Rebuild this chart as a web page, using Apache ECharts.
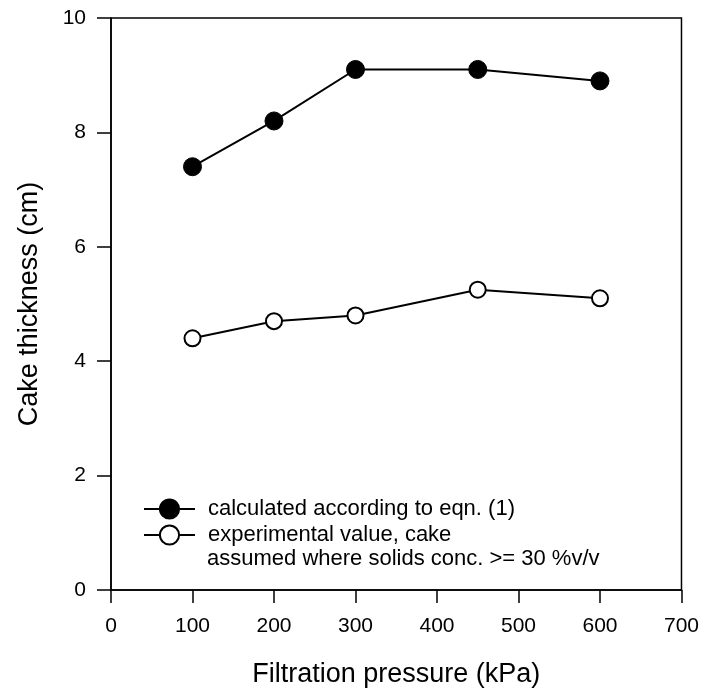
<!DOCTYPE html>
<html><head><meta charset="utf-8">
<script src="https://cdn.jsdelivr.net/npm/echarts@6/dist/echarts.min.js"></script>
<style>html,body{margin:0;padding:0;background:#fff}#c{width:702px;height:693px}</style>
</head><body><div id="c"></div>
<script>
const pressure = [100, 200, 300, 450, 600];
const calculated = [7.4, 8.2, 9.1, 9.1, 8.9];
const experimental = [4.4, 4.7, 4.8, 5.25, 5.1];
const xTicks = [0, 100, 200, 300, 400, 500, 600, 700];
const yTicks = [0, 2, 4, 6, 8, 10];
const seriesNames = ['calculated according to eqn. (1)', 'experimental value, cake'];
const extraLegendLine = 'assumed where solids conc. >= 30 %v/v';

const FONT = '"Liberation Sans", Arial, sans-serif';
const chart = echarts.init(document.getElementById('c'), null, {renderer: 'canvas'});
const pair = (xs, ys) => xs.map((x, i) => [x, ys[i]]);
chart.setOption({
  animation: false,
  backgroundColor: '#fff',
  grid: {left: 111, top: 18, right: 19, bottom: 102, show: true, borderColor: '#000', borderWidth: 1.5},
  xAxis: {
    type: 'value', min: xTicks[0], max: xTicks[xTicks.length - 1], interval: 100,
    name: 'Filtration pressure (kPa)', nameLocation: 'middle', nameGap: 71,
    nameTextStyle: {fontFamily: FONT, fontSize: 27, color: '#000'},
    axisLine: {show: true, onZero: false, lineStyle: {color: '#000', width: 1.5}},
    axisTick: {show: true, inside: false, length: 13, lineStyle: {color: '#000', width: 1.5}},
    axisLabel: {fontFamily: FONT, fontSize: 21, color: '#000', margin: 26},
    splitLine: {show: false}
  },
  yAxis: {
    type: 'value', min: yTicks[0], max: yTicks[yTicks.length - 1], interval: 2,
    name: 'Cake thickness (cm)', nameLocation: 'middle', nameGap: 68,
    nameTextStyle: {fontFamily: FONT, fontSize: 27, color: '#000'},
    axisLine: {show: true, onZero: false, lineStyle: {color: '#000', width: 1.5}},
    axisTick: {show: true, inside: false, length: 14, lineStyle: {color: '#000', width: 1.5}},
    axisLabel: {fontFamily: FONT, fontSize: 21, color: '#000', margin: 25},
    splitLine: {show: false}
  },
  legend: {
    orient: 'vertical', left: 143, top: 498, padding: 0, itemWidth: 51, itemHeight: 24, itemGap: 4,
    lineStyle: {width: 2},
    textStyle: {fontFamily: FONT, fontSize: 22, color: '#000', padding: [0, 0, 0, 8]},
    data: seriesNames
  },
  graphic: [{
    type: 'text', left: 207, top: 548,
    style: {text: extraLegendLine, font: '22px ' + FONT, fill: '#000'}
  }],
  series: [
    {
      name: seriesNames[0], type: 'line', data: pair(pressure, calculated),
      symbol: 'circle', symbolSize: 18,
      lineStyle: {color: '#000', width: 2},
      itemStyle: {color: '#000', borderColor: '#000', borderWidth: 1}
    },
    {
      name: seriesNames[1], type: 'line', data: pair(pressure, experimental),
      symbol: 'circle', symbolSize: 16,
      lineStyle: {color: '#000', width: 2},
      itemStyle: {color: '#fff', borderColor: '#000', borderWidth: 2}
    }
  ]
});
</script></body></html>
